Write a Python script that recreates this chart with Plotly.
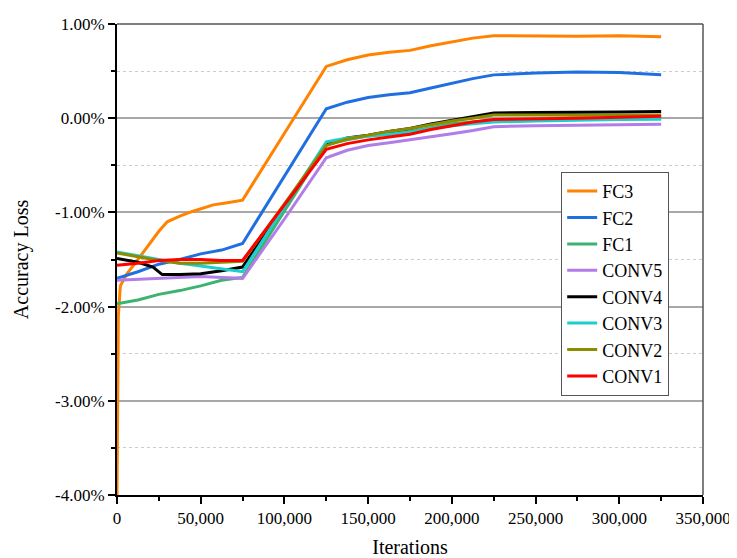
import plotly.graph_objects as go

# ---------------- data ----------------
SERIES = ["FC3", "FC2", "FC1", "CONV5", "CONV4", "CONV3", "CONV2", "CONV1"]
COLORS = ["#ff8200", "#1f6fe0", "#3cb371", "#b27de6", "#000000", "#1ccfcf", "#8c8c00", "#ff0000"]

X_MAIN = [0, 12500, 25000, 37500, 50000, 62500, 75000, 100000, 125000, 137500, 150000,
          162500, 175000, 187500, 200000, 212500, 225000, 250000, 275000, 300000, 325000]

FC3_X = [0, 800, 2000, 6000, 10000, 18000, 25000, 30000, 37500, 45000, 50000, 57500, 65000,
         75000, 100000, 125000, 137500, 150000, 162500, 175000, 187500, 200000, 212500,
         225000, 250000, 275000, 300000, 325000]
FC3_Y = [-4.00, -2.10, -1.78, -1.65, -1.56, -1.37, -1.20, -1.10, -1.04, -0.99, -0.96, -0.92, -0.90,
         -0.87, -0.16, 0.55, 0.62, 0.67, 0.70, 0.72, 0.77, 0.81, 0.85,
         0.875, 0.87, 0.87, 0.875, 0.865]

FC2_Y = [-1.70, -1.63, -1.55, -1.50, -1.44, -1.40, -1.33, -0.61, 0.10, 0.17, 0.22,
         0.25, 0.27, 0.32, 0.37, 0.42, 0.46, 0.48, 0.49, 0.485, 0.46]
FC1_Y = [-1.97, -1.93, -1.87, -1.83, -1.78, -1.72, -1.69, -0.99, -0.28, -0.23, -0.19,
         -0.17, -0.14, -0.10, -0.06, -0.04, -0.02, -0.01, 0.00, 0.00, 0.00]
CONV5_Y = [-1.72, -1.71, -1.70, -1.69, -1.68, -1.69, -1.70, -1.07, -0.42, -0.34, -0.29,
           -0.26, -0.23, -0.20, -0.165, -0.13, -0.09, -0.08, -0.075, -0.07, -0.065]
CONV4_X = [0, 12500, 21500, 27000, 37500, 50000, 62500, 75000, 100000, 125000, 137500, 150000,
           162500, 175000, 187500, 200000, 212500, 225000, 250000, 275000, 300000, 325000]
CONV4_Y = [-1.49, -1.53, -1.58, -1.66, -1.66, -1.65, -1.62, -1.58, -0.93, -0.28, -0.21, -0.18,
           -0.14, -0.11, -0.06, -0.02, 0.02, 0.055, 0.06, 0.06, 0.065, 0.07]
CONV3_Y = [-1.42, -1.46, -1.50, -1.54, -1.57, -1.60, -1.63, -0.94, -0.25, -0.21, -0.19,
           -0.17, -0.15, -0.11, -0.08, -0.06, -0.04, -0.03, -0.02, -0.015, -0.01]
CONV2_Y = [-1.43, -1.47, -1.51, -1.54, -1.54, -1.53, -1.52, -0.91, -0.29, -0.22, -0.18,
           -0.14, -0.11, -0.07, -0.03, 0.00, 0.035, 0.035, 0.03, 0.035, 0.035]
CONV1_Y = [-1.56, -1.54, -1.51, -1.50, -1.50, -1.51, -1.51, -0.92, -0.33, -0.27, -0.23,
           -0.20, -0.17, -0.12, -0.08, -0.04, -0.015, -0.01, 0.00, 0.01, 0.02]

XS = [FC3_X, X_MAIN, X_MAIN, X_MAIN, CONV4_X, X_MAIN, X_MAIN, X_MAIN]
YS = [FC3_Y, FC2_Y, FC1_Y, CONV5_Y, CONV4_Y, CONV3_Y, CONV2_Y, CONV1_Y]

Y_TICKS = [-4, -3, -2, -1, 0, 1]
Y_TICK_TEXT = ["-4.00%", "-3.00%", "-2.00%", "-1.00%", "0.00%", "1.00%"]
X_TICKS = [0, 50000, 100000, 150000, 200000, 250000, 300000, 350000]
X_TICK_TEXT = ["0", "50,000", "100,000", "150,000", "200,000", "250,000", "300,000", "350,000"]

FONT = "Liberation Serif"

fig = go.Figure()
for name, color, xs, ys in zip(SERIES, COLORS, XS, YS):
    fig.add_trace(go.Scatter(x=xs, y=ys, mode="lines", name=name,
                             line=dict(color=color, width=3)))

# page body has an 8px default margin, so the figure is 8px smaller on each side
fig.update_layout(
    width=729, height=550,
    margin=dict(l=109, r=34, t=16, b=63, autoexpand=False),
    paper_bgcolor="white", plot_bgcolor="white",
    font=dict(family=FONT, color="black", size=17),
    showlegend=True,
    legend=dict(x=0.758, y=0.686, xanchor="left", yanchor="top",
                bgcolor="white", bordercolor="#555555", borderwidth=1,
                font=dict(family=FONT, size=18, color="black"), tracegroupgap=0),
)

fig.update_xaxes(
    range=[0, 350000], tickvals=X_TICKS, ticktext=X_TICK_TEXT,
    automargin=False,
    showgrid=False, zeroline=False,
    showline=True, linecolor="black", linewidth=2,
    ticks="outside", ticklen=7, tickwidth=2, tickcolor="black",
    tickfont=dict(family=FONT, size=17, color="black"),
    minor=dict(dtick=25000, tick0=0, ticks="outside", ticklen=4, tickwidth=2, tickcolor="black", showgrid=False),
    title=dict(text="Iterations", font=dict(family=FONT, size=20, color="black"), standoff=20),
)
fig.update_yaxes(
    range=[-4, 1], tickvals=Y_TICKS, ticktext=Y_TICK_TEXT,
    automargin=False,
    showgrid=True, gridcolor="#a8a8a8", gridwidth=1.5, zeroline=False,
    showline=True, linecolor="black", linewidth=2,
    ticks="outside", ticklen=7, tickwidth=2, tickcolor="black",
    tickfont=dict(family=FONT, size=17, color="black"),
    minor=dict(dtick=0.5, tick0=0, ticks="outside", ticklen=4, tickwidth=2, tickcolor="black",
               showgrid=True, gridcolor="#cccccc", griddash="dot", gridwidth=1),
    title=dict(text="Accuracy Loss", font=dict(family=FONT, size=20, color="black"), standoff=21),
)

# top / right frame
fig.add_shape(type="line", xref="paper", yref="paper", x0=0, x1=1, y0=1, y1=1,
              line=dict(color="#555555", width=1.5), layer="above")
fig.add_shape(type="line", xref="paper", yref="paper", x0=1, x1=1, y0=0, y1=1,
              line=dict(color="#555555", width=1.5), layer="above")

fig.write_html("out.html")
